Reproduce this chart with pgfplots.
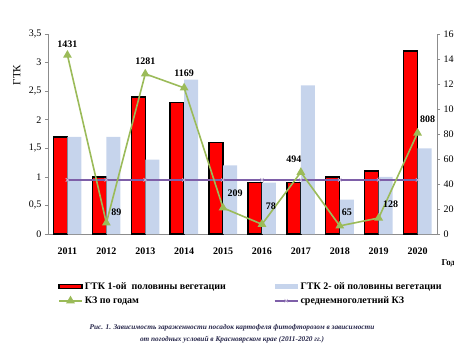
\documentclass[border=0pt]{standalone}
\usepackage{fontspec}
\setmainfont{Liberation Serif}
\usepackage{pgfplots}
\pgfplotsset{compat=1.18}
\usepackage{pgfplotstable}
\definecolor{barred}{HTML}{FF0000}
\definecolor{barblue}{HTML}{C6D4EC}
\definecolor{kzgreen}{HTML}{9BBB59}
\definecolor{kzpurple}{HTML}{7E5FA8}
\definecolor{axgray}{HTML}{8C8C8C}
\definecolor{capcol}{HTML}{26264A}

\pgfplotsset{
  rectleg/.style={legend image code/.code={\draw[##1] (0pt,-2.2pt) rectangle (23pt,2.2pt);}},
  fillleg/.style={legend image code/.code={\fill[barblue, draw=none] (0pt,-2.5pt) rectangle (23pt,2.5pt);}},
  lineleg/.style={legend image code/.code={\draw[mark repeat=2, mark phase=2, ##1] plot coordinates {(0pt,0pt) (11.5pt,0pt) (23pt,0pt)};}},
}

\pgfplotstableread{
x gtka gtkb
0 1.7 1.7
1 1.0 1.7
2 2.4 1.3
3 2.3 2.7
4 1.6 1.2
5 0.9 0.9
6 0.9 2.6
7 1.0 0.6
8 1.1 1.0
9 3.2 1.5
}\gtk

\pgfplotstableread{
x kz avg dx dy
0 1431 433 0 11
1 89 433 10 11
2 1281 433 0 13
3 1169 433 0 15
4 209 433 12 15
5 78 433 9 18
6 494 433 -7 13
7 65 433 7 14
8 128 433 12 14
9 808 433 10 14
}\kz

\begin{document}
\begin{tikzpicture}
\begin{axis}[
  name=ax1,
  scale only axis, width=389pt, height=200pt,
  xmin=-0.5, xmax=9.5, ymin=0, ymax=3.5,
  axis y line*=left, axis x line*=bottom,
  axis line style={axgray, line width=0.6pt},
  tick style={axgray, line width=0.6pt},
  tick align=outside,
  major tick length=3pt, minor tick length=4pt,
  xtick={0,...,9},
  xticklabels={2011,2012,2013,2014,2015,2016,2017,2018,2019,2020},
  xtick style={draw=none},
  minor xtick={-0.5,0.5,...,9.5},
  xticklabel style={font=\bfseries\fontsize{10}{12}\selectfont, yshift=-7pt},
  ytick={0,0.5,...,3.5},
  yticklabel style={font=\fontsize{10}{12}\selectfont},
  /pgf/number format/.cd, use comma, fixed, assume math mode=true,
  /pgfplots/.cd,
  ylabel={ГТК},
  ylabel style={at={(axis description cs:-0.08,0.795)}, anchor=center, font=\fontsize{11}{13}\selectfont},
  xlabel={Годы},
  xlabel style={at={(axis description cs:1,0)}, anchor=west, yshift=-29pt, xshift=1pt, font=\bfseries\fontsize{9}{11}\selectfont},
]
\addplot[ybar, bar width=14pt, bar shift=-7pt, fill=barred, draw=black, line width=1.4pt] table[x=x, y=gtka]{\gtk};
\addplot[ybar, bar width=14pt, bar shift=7pt, fill=barblue, draw=none] table[x=x, y=gtkb]{\gtk};
\end{axis}
\begin{axis}[
  scale only axis, width=389pt, height=200pt,
  xmin=-0.5, xmax=9.5, ymin=0, ymax=1600,
  axis y line*=right, axis x line=none,
  axis line style={axgray, line width=0.6pt},
  tick style={axgray, line width=0.6pt},
  tick align=outside, major tick length=3pt,
  ytick={0,200,...,1600},
  yticklabel style={font=\fontsize{10}{12}\selectfont},
  /pgf/number format/.cd, 1000 sep={}, assume math mode=true,
  /pgfplots/.cd,
  legend columns=2,
  legend cell align=left,
  legend style={draw=none, fill=none, at={(axis description cs:0.018,-0.22)}, anchor=north west,
    font=\bfseries\fontsize{10}{11}\selectfont, row sep=2pt,
    /tikz/every even column/.append style={column sep=46pt}},
]
\addlegendimage{rectleg, fill=barred, draw=black, line width=1.2pt}
\addlegendentry{ГТК 1-ой\ \ половины вегетации}
\addlegendimage{fillleg}
\addlegendentry{ГТК 2- ой половины вегетации}
\addplot[draw=kzpurple, line width=1.6pt, mark=x, mark size=2.5pt, mark options={draw=kzpurple!45, line width=0.6pt}, forget plot]
  table[x=x, y=avg]{\kz};
\addplot[kzgreen, line width=1.6pt, mark=triangle*, mark size=3.5pt, lineleg,
  point meta=explicit symbolic,
  visualization depends on={\thisrow{dx} \as \dxv},
  visualization depends on={\thisrow{dy} \as \dyv},
  nodes near coords,
  nodes near coords style={anchor=center, xshift=\dxv pt, yshift=\dyv pt, text=black, font=\bfseries\fontsize{10}{12}\selectfont},
] table[x=x, y=kz, meta=kz]{\kz};
\addlegendentry{КЗ по годам}
\addlegendimage{draw=kzpurple, line width=1.6pt, mark=x, mark size=2.5pt, mark options={draw=kzpurple!45, line width=0.6pt}, lineleg}
\addlegendentry{среднемноголетний КЗ}
\end{axis}
\node[align=center, text=capcol, font=\bfseries\itshape\fontsize{7.3}{12.5}\selectfont]
  at ([xshift=184pt,yshift=-100pt]ax1.south west)
  {Рис. 1. Зависимость зараженности посадок картофеля фитофторозом в зависимости\\
   от погодных условий в Красноярском крае (2011-2020 гг.)};
\pgfresetboundingbox
\path ([xshift=-48pt,yshift=-116pt]ax1.south west) rectangle ([xshift=406pt,yshift=234pt]ax1.south west);
\end{tikzpicture}
\end{document}
